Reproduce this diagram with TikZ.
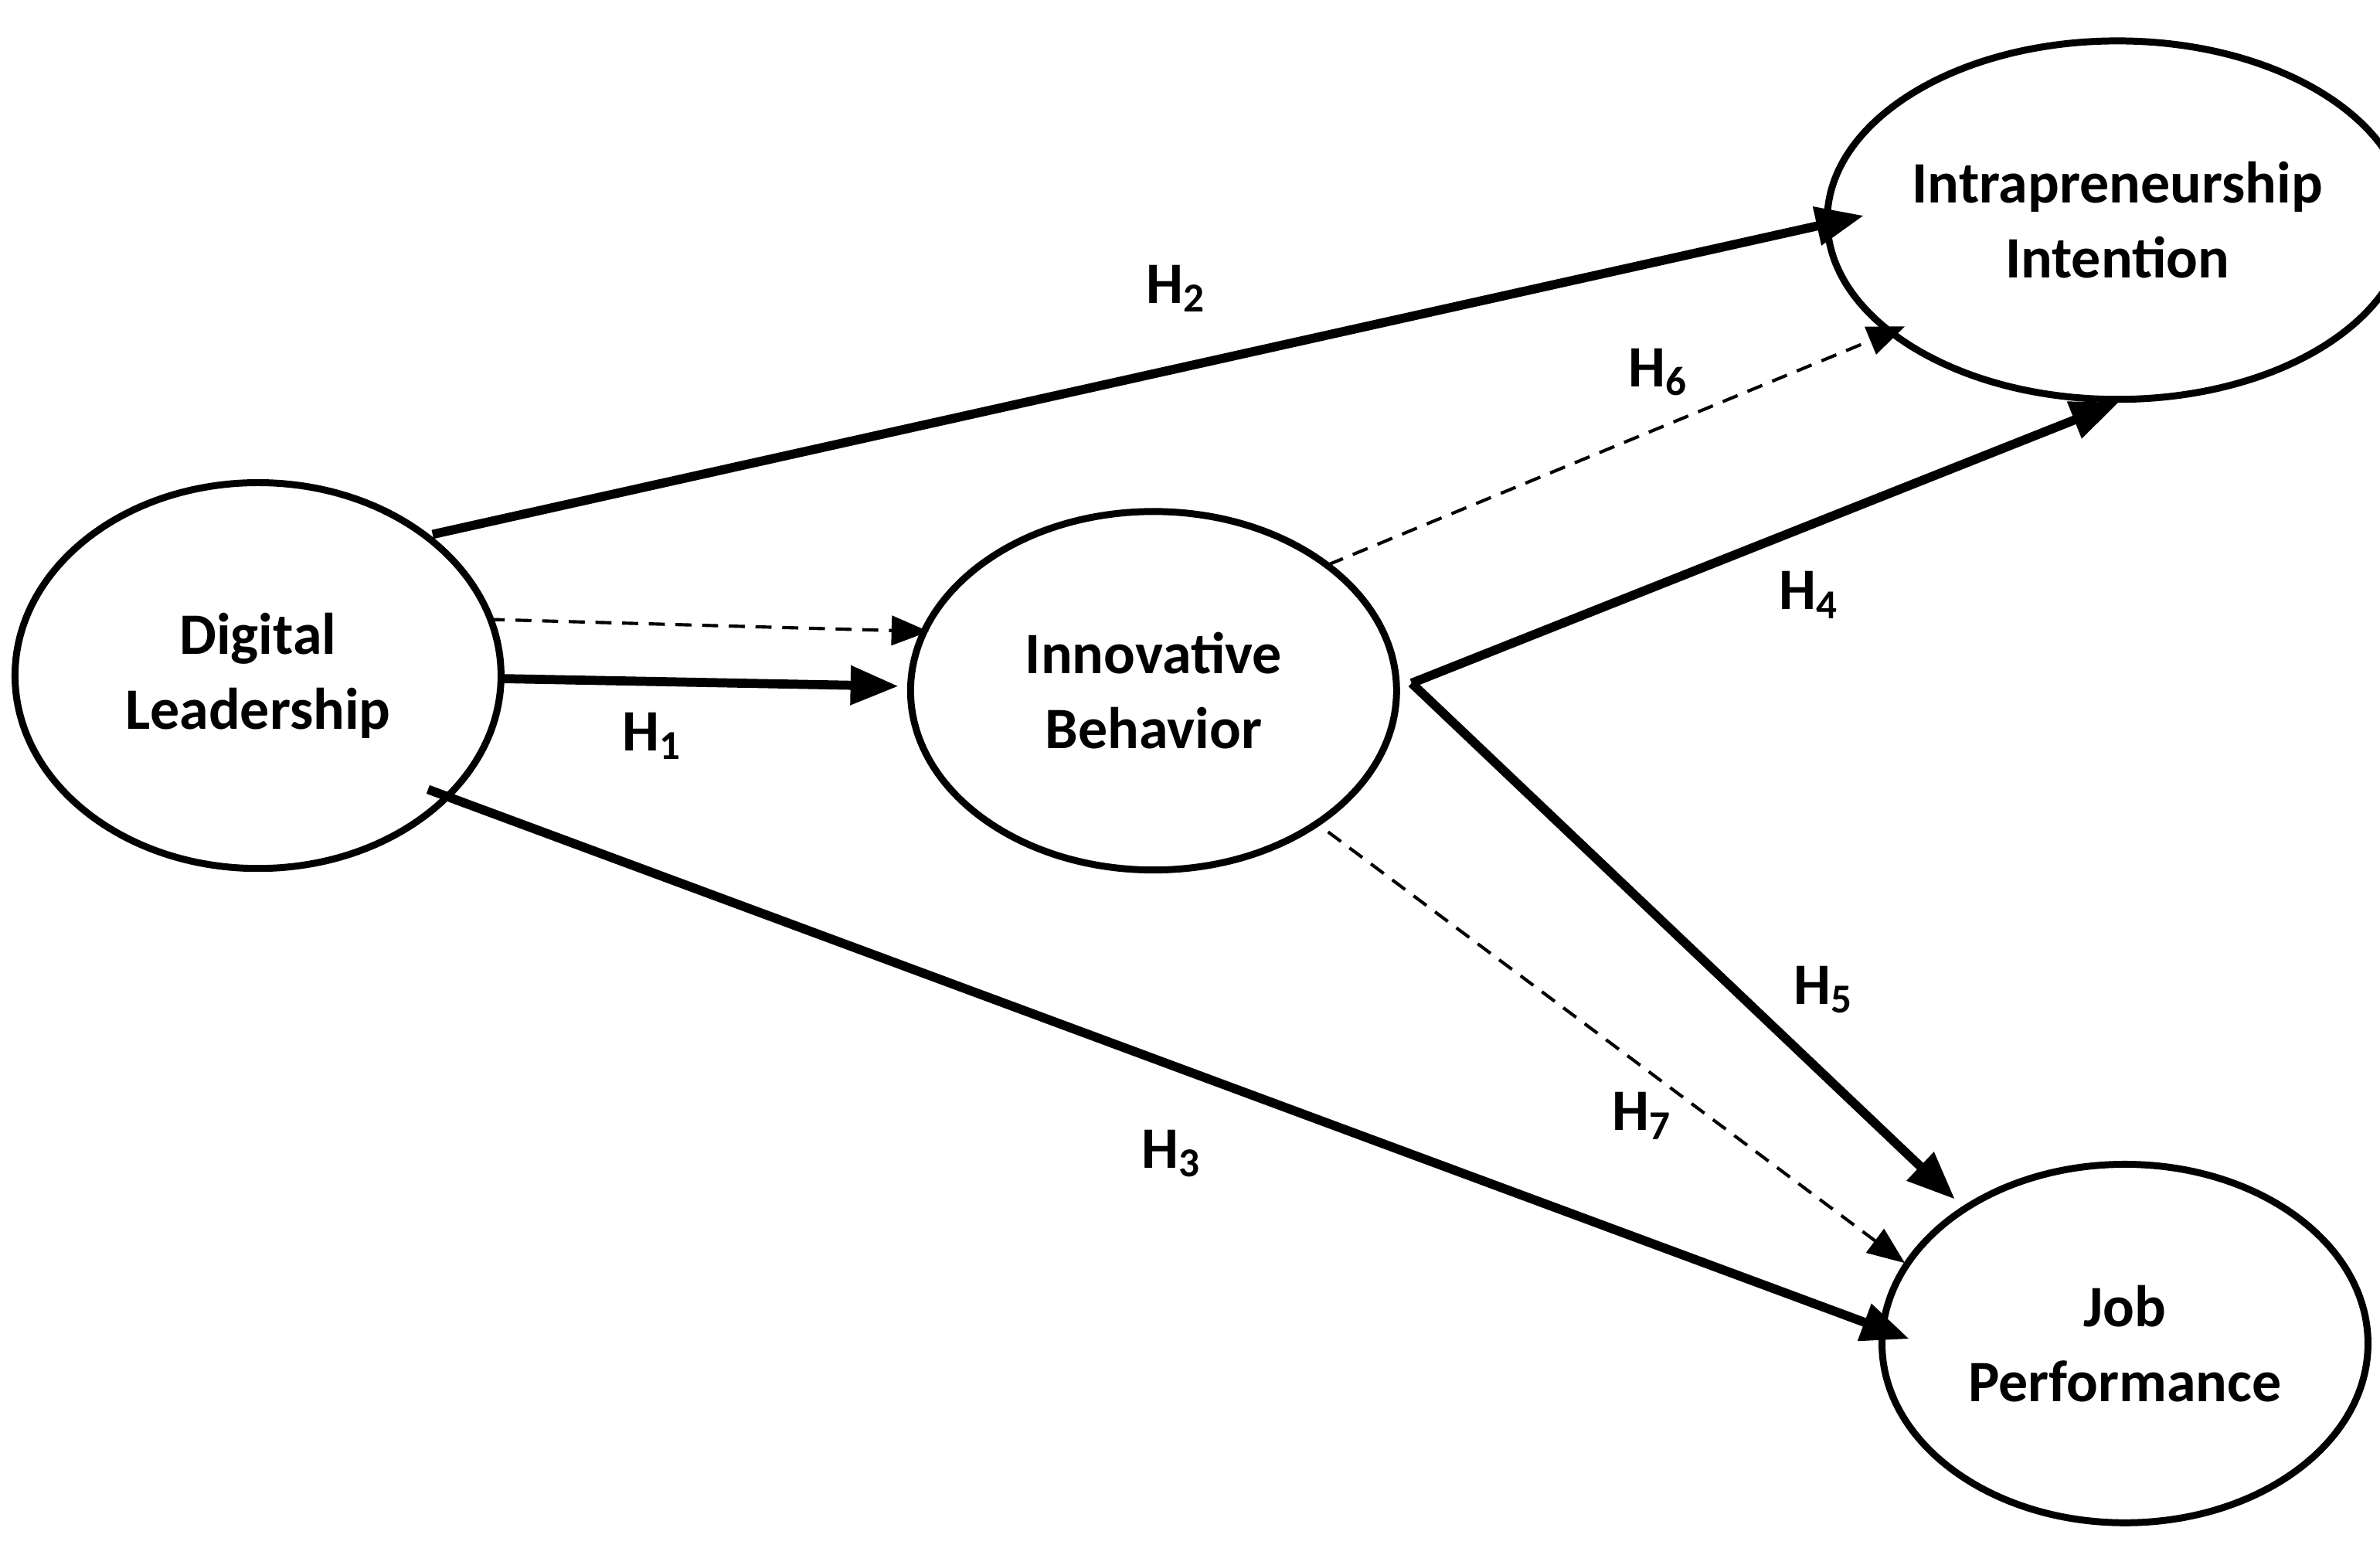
\documentclass[tikz,border=0pt]{standalone}
\usepackage{fontspec}
\setmainfont{Carlito}
\usetikzlibrary{shapes.geometric,arrows.meta}
\begin{document}
\begin{tikzpicture}[x=0.01cm,y=-0.01cm,
  ell/.style={draw,line width=1.3pt,ellipse,inner sep=0pt,align=center,font=\bfseries\fontsize{11}{14}\selectfont},
  solid arr/.style={line width=1.7pt,-{Triangle[length=9pt,width=7pt]}},
  dash arr/.style={line width=0.6pt,dashed,dash pattern=on 3pt off 2pt,-{Triangle[length=7pt,width=5.5pt]}},
  lab/.style={font=\bfseries\fontsize{11}{14}\selectfont}]
\useasboundingbox (0,0) rectangle (1568,1024);
\node[ell,minimum width=320\pgflinewidth*0+3.2cm,minimum height=2.54cm] (dl) at (170,445) {Digital\\Leadership};
\node[ell,minimum width=3.2cm,minimum height=2.36cm] (ib) at (760,455) {Innovative\\Behavior};
\node[ell,minimum width=3.2cm,minimum height=2.36cm] (ii) at (1395,145) {Intrapreneurship\\Intention};
\node[ell,minimum width=3.2cm,minimum height=2.36cm] (jp) at (1400,885) {Job\\Performance};
\coordinate (a2s) at (285,352); \coordinate (a2e) at (1228,142);
\coordinate (d1s) at (322,408); \coordinate (d1e) at (612,416);
\coordinate (a1s) at (330,447); \coordinate (a1e) at (592,452);
\coordinate (a3s) at (282,520); \coordinate (a3e) at (1258,882);
\coordinate (a6s) at (875,372); \coordinate (a6e) at (1255,215);
\coordinate (a45) at (930,450); \coordinate (a4e) at (1396,265);
\coordinate (a5e) at (1288,790);
\coordinate (a7s) at (875,548); \coordinate (a7e) at (1255,832);
\draw[solid arr] (a2s) -- (a2e);
\draw[dash arr] (d1s) -- (d1e);
\draw[solid arr] (a1s) -- (a1e);
\draw[solid arr] (a3s) -- (a3e);
\draw[dash arr] (a6s) -- (a6e);
\draw[solid arr] (a45) -- (a4e);
\draw[solid arr] (a45) -- (a5e);
\draw[dash arr] (a7s) -- (a7e);
\node[lab] (h2) at (775,190) {H\textsubscript{2}};
\node[lab] (h1) at (430,485) {H\textsubscript{1}};
\node[lab] (h3) at (772,760) {H\textsubscript{3}};
\node[lab] (h6) at (1093,245) {H\textsubscript{6}};
\node[lab] (h4) at (1192,392) {H\textsubscript{4}};
\node[lab] (h5) at (1202,652) {H\textsubscript{5}};
\node[lab] (h7) at (1082,735) {H\textsubscript{7}};
\end{tikzpicture}
\end{document}
